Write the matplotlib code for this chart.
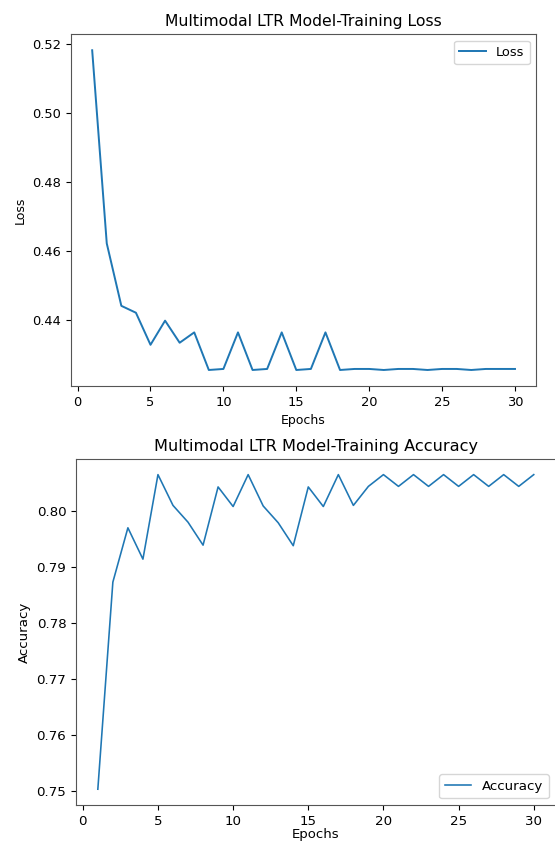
import matplotlib
matplotlib.use("Agg")
import matplotlib.pyplot as plt

epochs = list(range(1, 31))
loss = [0.5182, 0.4622, 0.4441, 0.4421, 0.4328, 0.4398, 0.4334, 0.4364, 0.4255, 0.4258,
        0.4364, 0.4255, 0.4258, 0.4364, 0.4255, 0.4258, 0.4364, 0.4255, 0.4258, 0.4258,
        0.4255, 0.4258, 0.4258, 0.4255, 0.4258, 0.4258, 0.4255, 0.4258, 0.4258, 0.4258]
accuracy = [0.7503, 0.7873, 0.7970, 0.7914, 0.8065, 0.8010, 0.7980, 0.7939, 0.8043, 0.8008,
            0.8065, 0.8009, 0.7979, 0.7938, 0.8043, 0.8008, 0.8065, 0.8010, 0.8044, 0.8065,
            0.8044, 0.8065, 0.8044, 0.8065, 0.8044, 0.8065, 0.8044, 0.8065, 0.8044, 0.8065]

fig = plt.figure(figsize=(5.55, 8.42), dpi=100)

s1 = 0.94
ax1 = fig.add_axes([0.128, 0.5416, 0.838, 0.4177])
ax1.plot(epochs, loss, color="#1f77b4", lw=1.5 * s1, label="Loss")
ax1.set_title("Multimodal LTR Model-Training Loss", fontsize=12 * s1)
ax1.set_xlabel("Epochs", fontsize=9.0)
ax1.set_ylabel("Loss", fontsize=9.0)
ax1.set_yticks([0.44, 0.46, 0.48, 0.50, 0.52])
ax1.set_xticks([0, 5, 10, 15, 20, 25, 30])
ax1.tick_params(labelsize=10 * s1)
ax1.legend(loc="upper right", fontsize=10 * s1)

s2 = 0.967
ax2 = fig.add_axes([0.137, 0.0440, 0.864, 0.411])
ax2.plot(epochs, accuracy, color="#1f77b4", lw=1.2 * s2, label="Accuracy")
ax2.set_title("Multimodal LTR Model-Training Accuracy", fontsize=12 * s2)
ax2.set_xlabel("Epochs", fontsize=9.5, labelpad=0)
ax2.set_ylabel("Accuracy", fontsize=10 * s2)
ax2.set_yticks([0.75, 0.76, 0.77, 0.78, 0.79, 0.80])
ax2.set_xticks([0, 5, 10, 15, 20, 25, 30])
ax2.tick_params(labelsize=10 * s2)
ax2.legend(loc="lower right", fontsize=10 * s2)

for ax in (ax1, ax2):
    for sp in ax.spines.values():
        sp.set_color("#555555")

fig.savefig("out.png", dpi=100)
